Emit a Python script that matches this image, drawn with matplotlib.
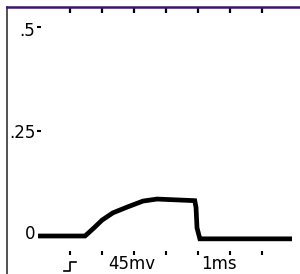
import matplotlib
matplotlib.use("Agg")
import matplotlib.pyplot as plt
import matplotlib.transforms as mtransforms

# scope trace, x in divisions (1 ms/div), y in volts
trace_x = [1.0, 2.47, 2.75, 3.0, 3.34, 3.78, 4.28, 4.72, 5.9, 5.94, 5.97, 6.06, 8.94]
trace_y = [0.0, 0.0, 0.02, 0.039, 0.057, 0.071, 0.086, 0.091, 0.087, 0.07, 0.02, -0.007, -0.007]

div_ticks = [2, 3, 4, 5, 6, 7, 8]
y_ticks = [0.5, 0.25, 0.0]
y_tick_labels = [".5", ".25", "0"]
bottom_labels = ["45mv", "1ms"]
bottom_label_x = [3.94, 6.67]

fig = plt.figure(figsize=(3.0, 2.74), dpi=100)
ax = fig.add_axes([7 / 300, 0, 293 / 300, 267 / 274])
ax.set_xlim(0.03, 9.19)
ax.set_ylim(-0.0936, 0.564)

for s in ["right", "bottom"]:
    ax.spines[s].set_visible(False)
ax.spines["top"].set_color("#3d1470")
ax.spines["top"].set_linewidth(1.8)
ax.spines["left"].set_color("#333333")
ax.spines["left"].set_linewidth(1.2)

ax.xaxis.tick_top()
ax.set_xticks(div_ticks)
ax.set_xticklabels([])
ax.tick_params(axis="x", direction="in", length=4, width=1.6, color="black")
ax.set_yticks([])

ax.plot(trace_x, trace_y, color="black", lw=3.4, solid_joinstyle="miter", solid_capstyle="butt")

# bottom graticule dots
ax.plot(div_ticks, [-0.042] * len(div_ticks), ls="none", marker="|", ms=3, mew=1.5, color="black")

font = dict(family="DejaVu Sans", fontsize=12, color="black")
trans = mtransforms.blended_transform_factory(ax.transAxes, ax.transData)
for v, lab in zip(y_ticks, y_tick_labels):
    ax.text(0.096, v + 0.004, lab, transform=trans, ha="right", va="center", **font)
# little tick dashes beside the y labels
ax.plot([0.108, 0.108], [0.515, 0.258], transform=trans, ls="none", marker="_", ms=2.5, mew=1.5, color="black")

for x, lab in zip(bottom_label_x, bottom_labels):
    ax.text(x, -0.069, lab, ha="center", va="center", **font)

# rising-edge symbol
ax.plot([1.8, 2.0, 2.0, 2.2], [-0.087, -0.087, -0.065, -0.065], color="black", lw=1.2)

fig.savefig("out.png", dpi=100)
